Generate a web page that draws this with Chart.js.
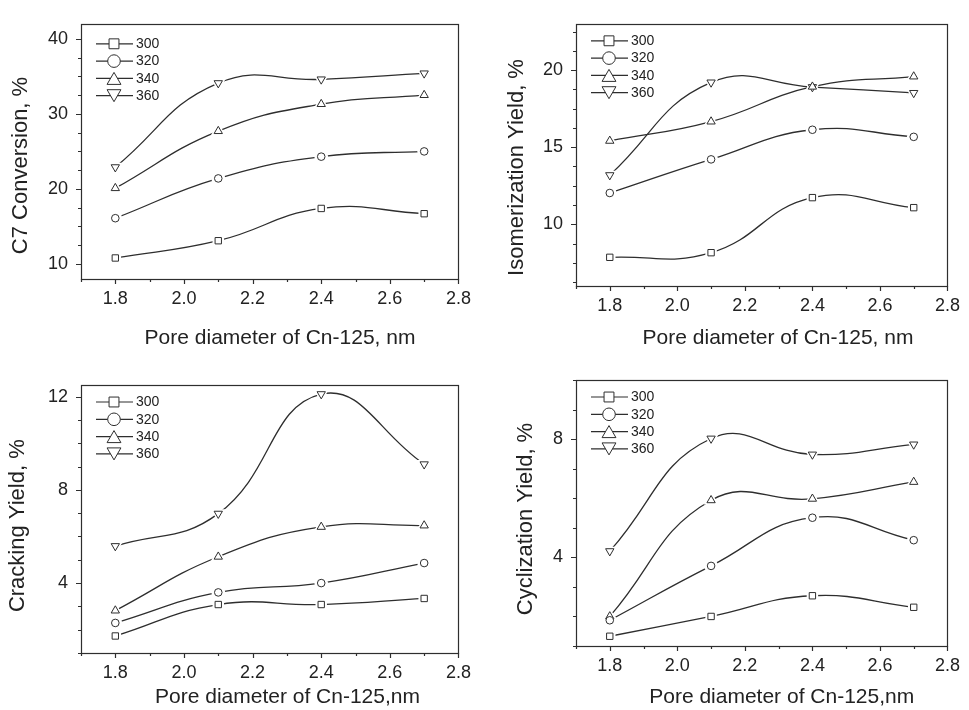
<!DOCTYPE html>
<html><head><meta charset="utf-8">
<script src="https://cdn.jsdelivr.net/npm/chart.js@4.4.1/dist/chart.umd.min.js"></script>
<style>
html,body{margin:0;padding:0;background:#fff;}
body{width:969px;height:710px;position:relative;overflow:hidden;}
canvas{position:absolute;display:block;}
</style></head><body>
<canvas id="c1" width="480" height="350" style="left:0;top:0"></canvas>
<canvas id="c2" width="489" height="350" style="left:480px;top:0"></canvas>
<canvas id="c3" width="480" height="360" style="left:0;top:350px"></canvas>
<canvas id="c4" width="489" height="360" style="left:480px;top:350px"></canvas>
<script>
// ---------- data ----------
const poreDiameter = [1.8, 2.1, 2.4, 2.7];
const temperatures = ['300', '320', '340', '360'];
const xTickValues = [1.8, 2.0, 2.2, 2.4, 2.6, 2.8];

const conv300 = [10.8, 13.1, 17.4, 16.7];
const conv320 = [16.1, 21.4, 24.3, 25.0];
const conv340 = [20.1, 27.7, 31.3, 32.5];
const conv360 = [22.9, 34.1, 34.6, 35.4];
const convTicks = [10, 20, 30, 40];

const iso300 = [7.86, 8.16, 11.73, 11.08];
const iso320 = [12.03, 14.21, 16.13, 15.67];
const iso340 = [15.41, 16.66, 18.92, 19.58];
const iso360 = [13.19, 19.2, 18.9, 18.52];
const isoTicks = [10, 15, 20];

const crack300 = [1.73, 3.08, 3.08, 3.34];
const crack320 = [2.29, 3.6, 4.0, 4.86];
const crack340 = [2.82, 5.13, 6.41, 6.47];
const crack360 = [5.59, 6.98, 12.11, 9.1];
const crackTicks = [4, 8, 12];

const cyc300 = [1.33, 2.0, 2.7, 2.31];
const cyc320 = [1.87, 3.71, 5.34, 4.58];
const cyc340 = [2.0, 5.93, 5.98, 6.55];
const cyc360 = [4.21, 8.02, 7.48, 7.82];
const cycTicks = [4, 8];

// ---------- styling ----------
const FONT = "'Liberation Sans', Arial, Helvetica, sans-serif";
const INK = '#222';
const LINE = '#2e2e2e';
const MARKERS = [
  {style: 'rect', rot: 0, r: 4.5, lr: 7},
  {style: 'circle', rot: 0, r: 3.8, lr: 6.3},
  {style: 'triangle', rot: 0, r: 4.8, lr: 8},
  {style: 'triangle', rot: 180, r: 4.8, lr: 8}
];

const panels = [
  {id: 'c1', series: [conv300, conv320, conv340, conv360], yTicks: convTicks, yMin: 8, yMax: 42, yMinor: 2.5,
   yTitle: 'C7 Conversion, %', xTitle: 'Pore diameter of Cn-125, nm', w: 480, h: 350,
   area: {l: 81, t: 13, r: 464, b: 279}, yT: {x: 27, y: 165.5}, xT: {x: 280, y: 344}, legTop: 20},
  {id: 'c2', series: [iso300, iso320, iso340, iso360], yTicks: isoTicks, yMin: 6, yMax: 23, yMinor: 1.25,
   yTitle: 'Isomerization Yield, %', xTitle: 'Pore diameter of Cn-125, nm', w: 489, h: 350,
   area: {l: 96, t: 18, r: 479, b: 286}, yT: {x: 43, y: 167.5}, xT: {x: 298, y: 344}, legTop: 17},
  {id: 'c3', series: [crack300, crack320, crack340, crack360], yTicks: crackTicks, yMin: 1, yMax: 12.5, yMinor: 1,
   yTitle: 'Cracking Yield, %', xTitle: 'Pore diameter of Cn-125,nm', w: 480, h: 360,
   area: {l: 81, t: 35, r: 464, b: 303}, yT: {x: 24, y: 175.7}, xT: {x: 287.5, y: 353}, legTop: 17},
  {id: 'c4', series: [cyc300, cyc320, cyc340, cyc360], yTicks: cycTicks, yMin: 1, yMax: 10, yMinor: 1,
   yTitle: 'Cyclization Yield, %', xTitle: 'Pore diameter of Cn-125,nm', w: 489, h: 360,
   area: {l: 96, t: 30, r: 479, b: 296}, yT: {x: 52, y: 169}, xT: {x: 301.7, y: 353}, legTop: 17}
];

const deco = {
  id: 'deco',
  afterDraw(chart, args, o) {
    const ctx = chart.ctx, a = chart.chartArea, xs = chart.scales.x, ys = chart.scales.y;
    const eps = 1e-6;
    ctx.save();
    ctx.strokeStyle = LINE; ctx.lineWidth = 1.2;
    ctx.strokeRect(Math.round(a.left) + 0.5, Math.round(a.top) + 0.5, Math.round(a.right - a.left), Math.round(a.bottom - a.top));
    ctx.beginPath();
    for (let k = 0; ; k++) {
      const v = xs.min + k * o.xMinor;
      if (v > xs.max + eps) break;
      const px = Math.round(xs.getPixelForValue(v)) + 0.5;
      const major = o.xMajor.some(t => Math.abs(t - v) < eps);
      ctx.moveTo(px, a.bottom); ctx.lineTo(px, a.bottom + (major ? 5 : 3));
    }
    const start = Math.ceil((ys.min - eps) / o.yMinor) * o.yMinor;
    for (let v = start; v <= ys.max + eps; v += o.yMinor) {
      const py = Math.round(ys.getPixelForValue(v)) + 0.5;
      const major = o.yMajor.some(t => Math.abs(t - v) < eps);
      ctx.moveTo(a.left, py); ctx.lineTo(a.left - (major ? 5 : 3), py);
    }
    ctx.stroke();

    // axis titles
    ctx.fillStyle = INK;
    ctx.font = '21px ' + FONT;
    ctx.textAlign = 'center'; ctx.textBaseline = 'alphabetic';
    ctx.fillText(o.xTitle, o.xT.x, o.xT.y);
    ctx.font = '22px ' + FONT;
    ctx.save();
    ctx.translate(o.yT.x, o.yT.y); ctx.rotate(-Math.PI / 2);
    ctx.fillText(o.yTitle, 0, 0);
    ctx.restore();

    // legend inside plot
    const items = chart.data.datasets.filter(d => d.isMarker);
    ctx.font = '14px ' + FONT;
    ctx.textAlign = 'left'; ctx.textBaseline = 'middle';
    items.forEach((d, i) => {
      const y = a.top + o.legTop + i * 17.3;
      const x0 = a.left + 15;
      ctx.strokeStyle = LINE; ctx.lineWidth = 1.2;
      ctx.beginPath(); ctx.moveTo(x0, y); ctx.lineTo(x0 + 37, y); ctx.stroke();
      ctx.fillStyle = '#fff'; ctx.strokeStyle = LINE; ctx.lineWidth = 1;
      const cy = d.pointStyle === 'triangle' ? y + (d.pointRotation ? -1 : 1) * d.legendRadius * 0.25 : y;
      Chart.helpers.drawPoint(ctx, {pointStyle: d.pointStyle, rotation: d.pointRotation, radius: d.legendRadius, borderWidth: 1}, x0 + 18, cy);
      ctx.fillStyle = INK;
      ctx.fillText(d.label, x0 + 40, y + 0.5);
    });
    ctx.restore();
  }
};

panels.forEach(p => {
  const lines = [], halos = [], marks = [];
  p.series.forEach((vals, i) => {
    const pts = poreDiameter.map((x, j) => ({x: x, y: vals[j]}));
    const m = MARKERS[i];
    lines.push({label: temperatures[i] + ' line', data: pts, borderColor: LINE, borderWidth: 1.3,
      pointRadius: 0, tension: 0.45, fill: false, order: 3});
    halos.push({label: temperatures[i] + ' halo', data: pts, showLine: false, pointStyle: m.style,
      pointRotation: m.rot, pointRadius: m.r * 1.8, pointBackgroundColor: '#fff', pointBorderColor: '#fff',
      pointBorderWidth: 0, order: 2});
    marks.push({label: temperatures[i], data: pts, showLine: false, pointStyle: m.style, pointRotation: m.rot,
      pointRadius: m.r, pointBackgroundColor: '#fff', pointBorderColor: LINE, pointBorderWidth: 1,
      order: 1, isMarker: true, legendRadius: m.lr});
  });
  new Chart(document.getElementById(p.id), {
    type: 'line',
    data: {datasets: [...marks, ...halos, ...lines]},
    options: {
      responsive: false, animation: false, events: [],
      layout: {padding: {top: p.area.t, right: p.w - p.area.r, left: 0, bottom: 0}},
      plugins: {
        legend: {display: false}, tooltip: {enabled: false},
        deco: {xMinor: 0.1, xMajor: xTickValues, yMinor: p.yMinor, yMajor: p.yTicks,
          xTitle: p.xTitle, yTitle: p.yTitle, xT: p.xT, yT: p.yT, legTop: p.legTop}
      },
      scales: {
        x: {type: 'linear', min: 1.7, max: 2.8,
          grid: {display: false, drawTicks: false}, border: {display: false},
          afterBuildTicks: s => { s.ticks = xTickValues.map(v => ({value: v})); },
          afterFit: s => { s.height = p.h - p.area.b; },
          ticks: {padding: 9, color: INK, font: {family: FONT, size: 18}, maxRotation: 0,
            callback: v => Number(v).toFixed(1)}},
        y: {type: 'linear', min: p.yMin, max: p.yMax,
          grid: {display: false, drawTicks: false}, border: {display: false},
          afterBuildTicks: s => { s.ticks = p.yTicks.map(v => ({value: v})); },
          afterFit: s => { s.width = p.area.l; },
          ticks: {padding: 13, color: INK, font: {family: FONT, size: 18}, callback: v => String(v)}}
      }
    },
    plugins: [deco]
  });
});
</script>
</body></html>
